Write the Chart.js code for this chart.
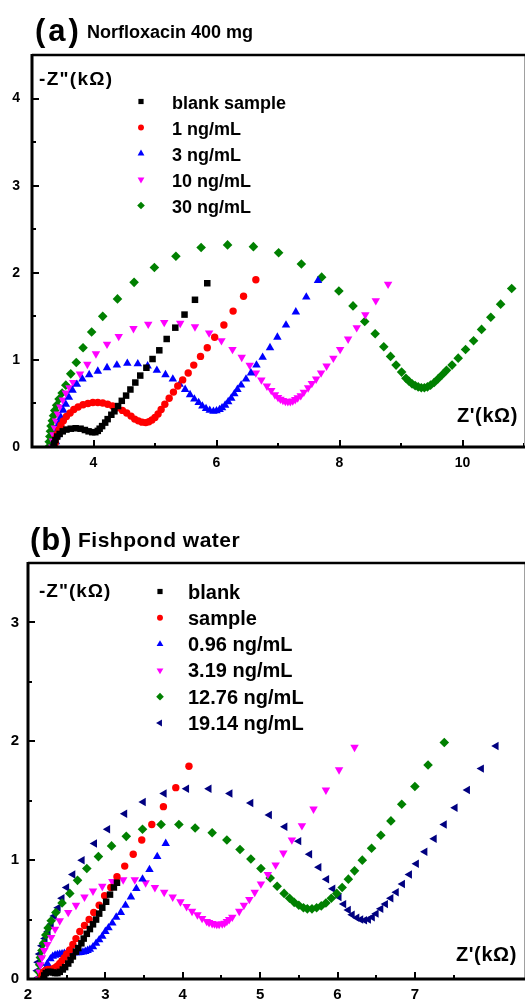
<!DOCTYPE html>
<html>
<head>
<meta charset="utf-8">
<script src="https://cdn.jsdelivr.net/npm/chart.js@4.4.1/dist/chart.umd.min.js"></script>
<style>
  body { margin: 0; background: #fff; width: 525px; height: 1001px; position: relative; overflow: hidden; }
  #wrapA { position: absolute; left: 0; top: 0; width: 525px; height: 480px; }
  #wrapB { position: absolute; left: 0; top: 480px; width: 525px; height: 521px; }
</style>
</head>
<body>
<div id="wrapA"><canvas id="chartA" width="525" height="480"></canvas></div>
<div id="wrapB"><canvas id="chartB" width="525" height="521"></canvas></div>
<script>
// Nyquist data, [Z' (kOhm), -Z'' (kOhm)]

// (a) Norfloxacin 400 mg
const aBlank = [[3.35,0],[3.36,0.04],[3.38,0.08],[3.41,0.12],[3.45,0.15],[3.50,0.18],[3.56,0.20],[3.63,0.21],[3.71,0.215],[3.79,0.21],[3.86,0.195],[3.92,0.18],[3.98,0.17],[4.03,0.17],[4.07,0.185],[4.10,0.21],[4.14,0.24],[4.19,0.28],[4.23,0.32],[4.29,0.37],[4.34,0.41],[4.40,0.47],[4.46,0.53],[4.53,0.59],[4.60,0.66],[4.68,0.74],[4.76,0.82],[4.86,0.91],[4.96,1.01],[5.07,1.11],[5.19,1.24],[5.33,1.37],[5.48,1.52],[5.65,1.69],[5.85,1.88]];
const a1ng = [[3.37,0],[3.38,0.05],[3.39,0.10],[3.41,0.15],[3.44,0.20],[3.47,0.25],[3.51,0.30],[3.56,0.35],[3.62,0.39],[3.68,0.43],[3.75,0.46],[3.83,0.485],[3.91,0.50],[3.99,0.51],[4.07,0.51],[4.15,0.505],[4.23,0.49],[4.31,0.47],[4.39,0.45],[4.47,0.42],[4.54,0.39],[4.61,0.355],[4.67,0.32],[4.73,0.30],[4.79,0.285],[4.85,0.28],[4.90,0.29],[4.95,0.31],[5.00,0.34],[5.05,0.38],[5.10,0.43],[5.16,0.49],[5.23,0.56],[5.30,0.63],[5.37,0.70],[5.45,0.77],[5.54,0.85],[5.63,0.94],[5.74,1.04],[5.85,1.14],[5.97,1.26],[6.12,1.40],[6.27,1.56],[6.44,1.73],[6.64,1.92]];
const a3ng = [[3.38,0],[3.39,0.06],[3.40,0.13],[3.42,0.20],[3.44,0.27],[3.47,0.34],[3.51,0.42],[3.55,0.49],[3.60,0.57],[3.66,0.65],[3.73,0.72],[3.82,0.78],[3.93,0.83],[4.07,0.87],[4.22,0.91],[4.38,0.94],[4.55,0.96],[4.72,0.955],[4.88,0.93],[5.03,0.88],[5.17,0.83],[5.29,0.78],[5.40,0.72],[5.49,0.66],[5.57,0.60],[5.64,0.55],[5.71,0.51],[5.77,0.47],[5.83,0.44],[5.89,0.42],[5.95,0.41],[6.00,0.415],[6.05,0.43],[6.09,0.45],[6.14,0.48],[6.19,0.52],[6.24,0.56],[6.29,0.61],[6.34,0.66],[6.40,0.71],[6.48,0.78],[6.56,0.85],[6.65,0.94],[6.75,1.03],[6.87,1.14],[6.99,1.26],[7.13,1.40],[7.29,1.55],[7.46,1.72],[7.65,1.91]];
const a10ng = [[3.33,0],[3.34,0.07],[3.35,0.14],[3.37,0.22],[3.39,0.30],[3.42,0.38],[3.46,0.46],[3.50,0.54],[3.55,0.62],[3.61,0.68],[3.67,0.74],[3.78,0.84],[3.90,0.95],[4.04,1.07],[4.22,1.18],[4.41,1.27],[4.65,1.36],[4.89,1.41],[5.15,1.43],[5.41,1.42],[5.65,1.38],[5.88,1.31],[6.08,1.22],[6.26,1.12],[6.41,1.03],[6.54,0.94],[6.64,0.85],[6.73,0.77],[6.82,0.70],[6.89,0.65],[6.95,0.60],[7.00,0.57],[7.04,0.55],[7.08,0.535],[7.12,0.525],[7.16,0.52],[7.20,0.52],[7.24,0.53],[7.28,0.545],[7.32,0.565],[7.37,0.59],[7.42,0.63],[7.49,0.68],[7.55,0.73],[7.62,0.78],[7.70,0.85],[7.79,0.93],[7.90,1.02],[8.01,1.12],[8.14,1.24],[8.28,1.37],[8.42,1.52],[8.59,1.68],[8.79,1.87]];
const a30ng = [[3.27,0],[3.28,0.06],[3.29,0.12],[3.30,0.18],[3.31,0.24],[3.33,0.30],[3.35,0.36],[3.37,0.42],[3.40,0.48],[3.44,0.55],[3.49,0.62],[3.55,0.71],[3.63,0.84],[3.72,0.97],[3.83,1.14],[3.97,1.32],[4.15,1.50],[4.39,1.70],[4.66,1.89],[4.99,2.06],[5.34,2.19],[5.75,2.29],[6.18,2.32],[6.60,2.30],[7.01,2.23],[7.38,2.10],[7.71,1.95],[7.99,1.79],[8.22,1.62],[8.41,1.44],[8.58,1.30],[8.72,1.15],[8.83,1.04],[8.92,0.94],[9.01,0.86],[9.08,0.79],[9.13,0.755],[9.18,0.725],[9.23,0.705],[9.28,0.69],[9.33,0.68],[9.38,0.68],[9.43,0.69],[9.48,0.71],[9.54,0.74],[9.60,0.78],[9.67,0.83],[9.74,0.88],[9.83,0.94],[9.93,1.02],[10.05,1.12],[10.18,1.22],[10.31,1.35],[10.46,1.49],[10.62,1.64],[10.80,1.82]];
const aLabels = ['blank sample', '1 ng/mL', '3 ng/mL', '10 ng/mL', '30 ng/mL'];
const aXTickLabels = [4, 6, 8, 10];
const aYTickLabels = [0, 1, 2, 3, 4];

// (b) Fishpond water
const bBlank = [[2.20,0],[2.21,0.03],[2.23,0.05],[2.26,0.06],[2.29,0.06],[2.32,0.055],[2.35,0.05],[2.38,0.05],[2.41,0.06],[2.45,0.08],[2.48,0.10],[2.52,0.13],[2.55,0.16],[2.58,0.19],[2.62,0.23],[2.65,0.26],[2.69,0.30],[2.72,0.34],[2.76,0.38],[2.80,0.42],[2.84,0.46],[2.88,0.50],[2.92,0.55],[2.96,0.60],[3.01,0.65],[3.06,0.71],[3.11,0.77],[3.15,0.81]];
const bSample = [[2.17,0],[2.18,0.03],[2.20,0.06],[2.23,0.075],[2.26,0.08],[2.29,0.08],[2.32,0.085],[2.35,0.095],[2.38,0.11],[2.41,0.13],[2.44,0.155],[2.47,0.18],[2.50,0.21],[2.54,0.245],[2.58,0.29],[2.62,0.34],[2.67,0.40],[2.73,0.45],[2.79,0.50],[2.85,0.56],[2.92,0.62],[2.99,0.70],[3.07,0.77],[3.15,0.86],[3.25,0.95],[3.36,1.05],[3.47,1.17],[3.60,1.30],[3.75,1.45],[3.91,1.61],[4.08,1.79]];
const b096 = [[2.15,0],[2.17,0.02],[2.19,0.05],[2.22,0.08],[2.25,0.13],[2.29,0.17],[2.32,0.19],[2.35,0.20],[2.38,0.205],[2.41,0.21],[2.44,0.212],[2.47,0.215],[2.50,0.217],[2.53,0.218],[2.56,0.22],[2.59,0.22],[2.62,0.22],[2.65,0.22],[2.68,0.222],[2.71,0.226],[2.74,0.232],[2.77,0.24],[2.80,0.25],[2.84,0.27],[2.88,0.30],[2.92,0.33],[2.96,0.36],[3.00,0.40],[3.04,0.43],[3.09,0.47],[3.14,0.52],[3.20,0.56],[3.26,0.62],[3.33,0.69],[3.40,0.76],[3.48,0.84],[3.57,0.92],[3.67,1.03],[3.78,1.14]];
const b319 = [[2.14,0],[2.15,0.06],[2.16,0.12],[2.18,0.18],[2.21,0.24],[2.25,0.29],[2.30,0.35],[2.35,0.42],[2.41,0.49],[2.52,0.56],[2.62,0.62],[2.73,0.69],[2.84,0.74],[2.96,0.78],[3.09,0.82],[3.23,0.835],[3.38,0.835],[3.52,0.81],[3.64,0.77],[3.76,0.73],[3.87,0.69],[3.97,0.65],[4.05,0.61],[4.12,0.57],[4.19,0.54],[4.25,0.51],[4.31,0.485],[4.34,0.475],[4.38,0.467],[4.41,0.463],[4.44,0.46],[4.47,0.46],[4.51,0.465],[4.54,0.47],[4.57,0.485],[4.60,0.50],[4.64,0.52],[4.73,0.57],[4.79,0.62],[4.86,0.67],[4.93,0.73],[5.01,0.80],[5.10,0.88],[5.20,0.96],[5.30,1.06],[5.41,1.17],[5.54,1.29],[5.69,1.43],[5.85,1.59],[6.02,1.76],[6.22,1.95]];
const b1276 = [[2.13,0],[2.14,0.06],[2.15,0.12],[2.16,0.18],[2.18,0.24],[2.20,0.30],[2.23,0.37],[2.26,0.43],[2.30,0.49],[2.36,0.56],[2.44,0.64],[2.54,0.72],[2.64,0.83],[2.76,0.93],[2.91,1.03],[3.08,1.12],[3.27,1.20],[3.48,1.26],[3.72,1.30],[3.95,1.30],[4.16,1.27],[4.38,1.23],[4.57,1.17],[4.74,1.09],[4.88,1.01],[5.01,0.93],[5.13,0.85],[5.22,0.78],[5.31,0.72],[5.38,0.68],[5.44,0.645],[5.50,0.62],[5.56,0.60],[5.61,0.59],[5.67,0.59],[5.73,0.60],[5.79,0.615],[5.85,0.64],[5.92,0.68],[5.99,0.72],[6.06,0.77],[6.14,0.84],[6.22,0.91],[6.32,1.00],[6.44,1.10],[6.56,1.21],[6.69,1.33],[6.83,1.47],[7.00,1.62],[7.17,1.80],[7.38,1.99]];
const b1914 = [[2.11,0],[2.12,0.07],[2.13,0.14],[2.15,0.21],[2.18,0.28],[2.22,0.34],[2.26,0.40],[2.30,0.46],[2.34,0.53],[2.39,0.60],[2.44,0.68],[2.50,0.77],[2.58,0.88],[2.70,1.00],[2.86,1.14],[3.03,1.26],[3.25,1.39],[3.49,1.49],[3.76,1.56],[4.05,1.60],[4.34,1.60],[4.61,1.56],[4.88,1.48],[5.12,1.38],[5.32,1.28],[5.50,1.16],[5.64,1.05],[5.76,0.94],[5.86,0.84],[5.94,0.76],[6.02,0.69],[6.08,0.63],[6.14,0.58],[6.19,0.54],[6.25,0.515],[6.30,0.50],[6.35,0.495],[6.40,0.50],[6.45,0.52],[6.50,0.55],[6.56,0.59],[6.62,0.63],[6.69,0.68],[6.76,0.73],[6.84,0.80],[6.93,0.88],[7.02,0.97],[7.13,1.07],[7.25,1.18],[7.38,1.30],[7.52,1.44],[7.68,1.59],[7.86,1.77],[8.05,1.96]];
const bLabels = ['blank', 'sample', '0.96 ng/mL', '3.19 ng/mL', '12.76 ng/mL', '19.14 ng/mL'];
const bXTickLabels = [2, 3, 4, 5, 6, 7, 8];
const bYTickLabels = [0, 1, 2, 3];

const FONT = '"Liberation Sans", Arial, sans-serif';

// marker look for each series (Origin style symbols)
const SQUARE = { pointStyle: 'rect', pointRadius: 4.6, pointRotation: 0 };
const CIRCLE = { pointStyle: 'circle', pointRadius: 3.7, pointRotation: 0 };
const UP = { pointStyle: 'triangle', pointRadius: 4.9, pointRotation: 0 };
const DOWN = { pointStyle: 'triangle', pointRadius: 4.9, pointRotation: 180 };
const DIAMOND = { pointStyle: 'rectRot', pointRadius: 4.8, pointRotation: 0 };
const LEFT = { pointStyle: 'triangle', pointRadius: 4.9, pointRotation: 270 };

function makeSet(label, pts, color, marker) {
    return Object.assign({
        label: label,
        data: pts.map(p => ({ x: p[0], y: p[1] })),
        backgroundColor: color,
        borderColor: color,
        borderWidth: 0,
        showLine: false
    }, marker);
}

// inward tick marks + frame (thick left/bottom, black top, thin grey right)
const frameTicks = {
    id: 'frameTicks',
    afterDatasetsDraw(chart, args, opts) {
        const { ctx, chartArea: a, scales: { x, y } } = chart;
        const isStep = (v, s) => Math.abs(v / s - Math.round(v / s)) < 1e-6;
        ctx.save();
        ctx.strokeStyle = '#000';
        ctx.lineWidth = 2;
        x.ticks.forEach(t => {
            if (!isStep(t.value, opts.xMinor)) return;
            const len = isStep(t.value, opts.xMajor) ? 7 : 4;
            const px = Math.round(x.getPixelForValue(t.value));
            ctx.beginPath(); ctx.moveTo(px, a.bottom); ctx.lineTo(px, a.bottom - len); ctx.stroke();
        });
        y.ticks.forEach(t => {
            if (!isStep(t.value, opts.yMinor)) return;
            const len = isStep(t.value, opts.yMajor) ? 7 : 4;
            const py = Math.round(y.getPixelForValue(t.value));
            ctx.beginPath(); ctx.moveTo(a.left, py); ctx.lineTo(a.left + len, py); ctx.stroke();
        });
        // right edge
        ctx.strokeStyle = '#a0a0a0';
        ctx.lineWidth = 1;
        ctx.beginPath(); ctx.moveTo(a.right + 0.5, a.top); ctx.lineTo(a.right + 0.5, a.bottom); ctx.stroke();
        // top edge
        ctx.strokeStyle = '#000';
        ctx.lineWidth = 2.5;
        ctx.beginPath(); ctx.moveTo(a.left, a.top); ctx.lineTo(a.right + 1, a.top); ctx.stroke();
        // left + bottom axes
        ctx.lineWidth = 3;
        ctx.beginPath();
        ctx.moveTo(a.left, a.top - 1);
        ctx.lineTo(a.left, a.bottom);
        ctx.lineTo(a.right + 1, a.bottom);
        ctx.stroke();
        ctx.restore();
    }
};

// panel title, axis titles and the in-plot legend
const notes = {
    id: 'notes',
    afterDraw(chart, args, opts) {
        const ctx = chart.ctx;
        ctx.save();
        ctx.fillStyle = '#000';
        ctx.textBaseline = 'alphabetic';
        opts.texts.forEach(t => {
            ctx.font = t.font;
            ctx.textAlign = t.align || 'left';
            ctx.letterSpacing = t.ls || '0px';
            ctx.fillText(t.text, t.x, t.y);
        });
        ctx.letterSpacing = '0px';
        const lg = opts.legend;
        ctx.font = lg.font;
        ctx.textAlign = 'left';
        chart.data.datasets.forEach((ds, i) => {
            const cy = lg.y0 + i * lg.dy;
            ctx.fillStyle = ds.backgroundColor;
            Chart.helpers.drawPoint(ctx, {
                pointStyle: ds.pointStyle,
                rotation: ds.pointRotation,
                radius: ds.pointRadius * 0.8,
                borderWidth: 0
            }, lg.markX, cy);
            ctx.fillStyle = '#000';
            ctx.fillText(ds.label, lg.textX, cy + 7);
        });
        ctx.restore();
    }
};

function linearAxis(min, max, step, labels, font, pad, fit) {
    return {
        type: 'linear',
        min: min,
        max: max,
        ticks: {
            stepSize: step,
            autoSkip: false,
            maxRotation: 0,
            color: '#000',
            padding: pad,
            font: { family: FONT, size: font, weight: 'bold' },
            callback: v => labels.includes(v) ? String(v) : ''
        },
        grid: { display: false, drawTicks: false },
        border: { display: false },
        afterFit: s => {
            fit(s);
            s.paddingLeft = 0; s.paddingRight = 0;
            s.paddingTop = 0; s.paddingBottom = 0;
        }
    };
}

window.onload = () => {
    const ctxA = document.getElementById('chartA').getContext('2d');
    const ctxB = document.getElementById('chartB').getContext('2d');

    new Chart(ctxA, {
        type: 'scatter',
        data: {
            datasets: [
                makeSet(aLabels[0], aBlank, '#000000', SQUARE),
                makeSet(aLabels[1], a1ng, '#ff0000', CIRCLE),
                makeSet(aLabels[2], a3ng, '#0000ff', UP),
                makeSet(aLabels[3], a10ng, '#ff00ff', DOWN),
                makeSet(aLabels[4], a30ng, '#008000', DIAMOND)
            ]
        },
        options: {
            responsive: false,
            animation: false,
            layout: { autoPadding: false, padding: { top: 55, right: 1, left: 0, bottom: 0 } },
            scales: {
                x: linearAxis(3, 11, 1, aXTickLabels, 14, 8, s => { s.height = 33; }),
                y: linearAxis(0, 4.5, 0.5, aYTickLabels, 14, 12, s => { s.width = 32; })
            },
            plugins: {
                legend: { display: false },
                tooltip: { enabled: false },
                frameTicks: { xMinor: 1, xMajor: 2, yMinor: 0.5, yMajor: 1 },
                notes: {
                    texts: [
                        { text: '(a)', x: 35, y: 41, font: 'bold 31px ' + FONT, ls: '3px' },
                        { text: 'Norfloxacin 400 mg', x: 87, y: 37.5, font: 'bold 18px ' + FONT },
                        { text: '-Z"(k\u03A9)', x: 39, y: 85, font: 'bold 19px ' + FONT, ls: '1.3px' },
                        { text: "Z'(k\u03A9)", x: 518, y: 422, font: 'bold 20px ' + FONT, align: 'right', ls: '0.6px' }
                    ],
                    legend: { markX: 141, textX: 172, y0: 101.5, dy: 26, font: 'bold 18px ' + FONT }
                }
            }
        },
        plugins: [frameTicks, notes]
    });

    new Chart(ctxB, {
        type: 'scatter',
        data: {
            datasets: [
                makeSet(bLabels[0], bBlank, '#000000', SQUARE),
                makeSet(bLabels[1], bSample, '#ff0000', CIRCLE),
                makeSet(bLabels[2], b096, '#0000ff', UP),
                makeSet(bLabels[3], b319, '#ff00ff', DOWN),
                makeSet(bLabels[4], b1276, '#008000', DIAMOND),
                makeSet(bLabels[5], b1914, '#000080', LEFT)
            ]
        },
        options: {
            responsive: false,
            animation: false,
            layout: { autoPadding: false, padding: { top: 83, right: 1, left: 0, bottom: 0 } },
            scales: {
                x: linearAxis(2, 8.41, 0.5, bXTickLabels, 15, 7, s => { s.height = 22; }),
                y: linearAxis(0, 3.5, 0.5, bYTickLabels, 15, 9, s => { s.width = 28; })
            },
            plugins: {
                legend: { display: false },
                tooltip: { enabled: false },
                frameTicks: { xMinor: 0.5, xMajor: 1, yMinor: 0.5, yMajor: 1 },
                notes: {
                    texts: [
                        { text: '(b)', x: 30, y: 70, font: 'bold 31px ' + FONT, ls: '1px' },
                        { text: 'Fishpond water', x: 78, y: 66.7, font: 'bold 21px ' + FONT, ls: '0.5px' },
                        { text: '-Z"(k\u03A9)', x: 39, y: 116.7, font: 'bold 19px ' + FONT, ls: '1px' },
                        { text: "Z'(k\u03A9)", x: 517, y: 480.7, font: 'bold 20px ' + FONT, align: 'right', ls: '0.6px' }
                    ],
                    legend: { markX: 160, textX: 188, y0: 111.5, dy: 26.3, font: 'bold 20px ' + FONT }
                }
            }
        },
        plugins: [frameTicks, notes]
    });
};
</script>
</body>
</html>
